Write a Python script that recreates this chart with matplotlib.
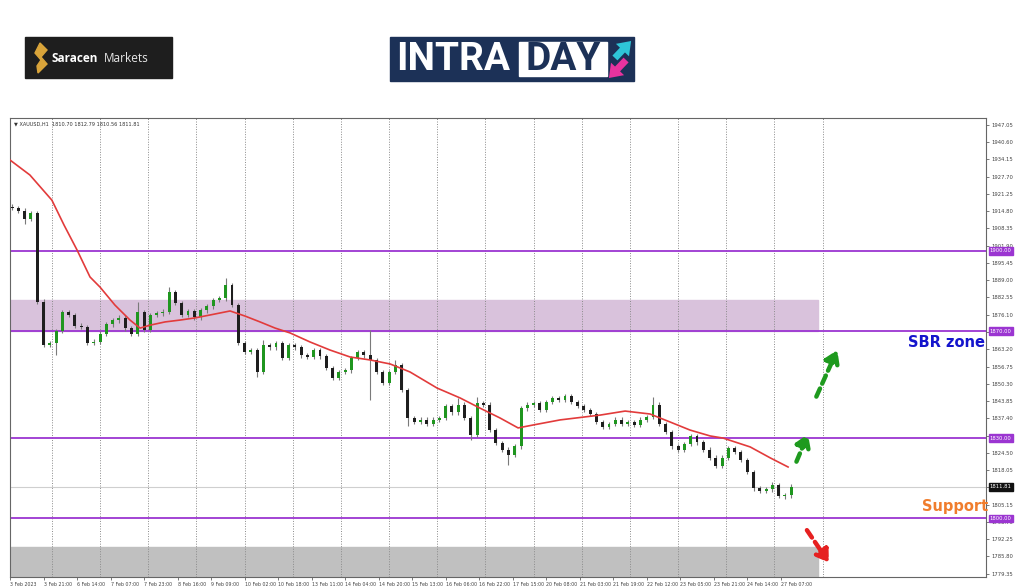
import numpy as np
import matplotlib.pyplot as plt
from matplotlib.patches import Rectangle, Polygon
import matplotlib.transforms as mtransforms


# candle closes, one candle per 3 H1 bars
closes = [1916.0, 1915.0, 1912.0, 1914.0, 1881.0, 1864.8, 1865.5, 1870.0, 1877.0, 1876.0,
          1872.0, 1871.5, 1865.5, 1866.0, 1869.0, 1872.5, 1874.0, 1875.0, 1871.0, 1869.0,
          1877.0, 1870.4, 1876.0, 1876.7, 1877.2, 1884.6, 1880.5, 1876.0, 1877.5, 1875.2,
          1877.8, 1879.3, 1881.6, 1882.3, 1887.2, 1879.7, 1865.5, 1862.2, 1862.9, 1854.7,
          1864.8, 1864.0, 1865.5, 1859.9, 1864.8, 1864.0, 1861.0, 1860.3, 1862.9, 1860.6,
          1856.2, 1852.5, 1854.7, 1855.4, 1859.9, 1862.2, 1861.0, 1859.2, 1854.7, 1850.6,
          1854.7, 1857.3, 1848.0, 1837.5, 1836.0, 1836.8, 1835.3, 1836.8, 1837.5, 1842.0,
          1839.7, 1842.4, 1837.5, 1831.2, 1843.1, 1842.4, 1833.0, 1828.2, 1825.6, 1823.7,
          1827.0, 1841.2, 1842.4, 1843.0, 1840.5, 1843.5, 1845.0, 1844.2, 1845.7, 1843.5,
          1842.0, 1840.5, 1839.0, 1836.0, 1834.2, 1835.3, 1836.8, 1835.3, 1836.0, 1834.9,
          1836.8, 1837.9, 1842.4, 1835.3, 1832.3, 1827.0, 1825.6, 1827.8, 1830.8, 1828.5,
          1825.6, 1822.6, 1819.6, 1822.6, 1826.3, 1824.8, 1821.8, 1817.3, 1811.3, 1810.2,
          1810.8, 1812.5, 1808.4, 1808.7, 1811.81]
spike_hi = {20: 1881.0, 25: 1886.5, 34: 1889.8, 40: 1866.6, 57: 1870.4, 61: 1859.0,
            71: 1845.0, 74: 1845.5, 102: 1845.5, 121: 1813.5}
spike_lo = {2: 1910.0, 7: 1861.0, 39: 1852.8, 57: 1844.2, 63: 1834.5, 73: 1829.3,
            79: 1819.9, 123: 1807.2}

# moving average (bar index, price)
ma_bar = [-1, 8.5, 19, 24.8, 31, 37.2, 42, 49.1, 56.3, 61.1, 65.9, 73, 80.2, 87.3, 94.5,
          104.1, 111.2, 118.4, 125.6, 132.7, 142.3, 151.8, 161.4, 170.9, 180.5, 190,
          202.9, 213.9, 223.4, 233, 241.6, 248.8, 261.7, 280.8, 292.7, 304.6, 314.2,
          323.7, 333.3, 339.5, 352.4, 362, 370.5]
ma_val = [1933.9, 1928.3, 1918.9, 1909.6, 1900.3, 1890.2, 1886.4, 1879.7, 1874.1, 1871.1,
          1872.2, 1873.4, 1874.1, 1874.9, 1876.0, 1877.5, 1875.6, 1873.4, 1871.1, 1869.3,
          1865.9, 1862.9, 1860.3, 1859.2, 1857.7, 1854.7, 1848.7, 1845.0, 1841.2, 1837.5,
          1833.8, 1834.9, 1836.8, 1838.6, 1840.1, 1839.0, 1836.0, 1833.0, 1830.8, 1830.0,
          1826.7, 1822.6, 1819.2]

levels = [1900.0, 1870.0, 1830.0, 1800.0]
last_price = 1811.81
sbr_zone = (1870.0, 1881.6)
low_zone = (1770.0, 1789.3)

price_ticks = ['1779.35', '1785.80', '1792.25', '1798.70', '1805.15', '1811.60', '1818.05',
               '1824.50', '1830.95', '1837.40', '1843.85', '1850.30', '1856.75', '1863.20',
               '1869.65', '1876.10', '1882.55', '1889.00', '1895.45', '1901.90', '1908.35',
               '1914.80', '1921.25', '1927.70', '1934.15', '1940.60', '1947.05']
date_labels = ['3 Feb 2023', '3 Feb 21:00', '6 Feb 14:00', '7 Feb 07:00', '7 Feb 23:00',
               '8 Feb 16:00', '9 Feb 09:00', '10 Feb 02:00', '10 Feb 18:00', '13 Feb 11:00',
               '14 Feb 04:00', '14 Feb 20:00', '15 Feb 13:00', '16 Feb 06:00', '16 Feb 22:00',
               '17 Feb 15:00', '20 Feb 08:00', '21 Feb 03:00', '21 Feb 19:00', '22 Feb 12:00',
               '23 Feb 05:00', '23 Feb 21:00', '24 Feb 14:00', '27 Feb 07:00']

PURPLE = '#9B35D1'

fig = plt.figure(figsize=(10.24, 5.87), dpi=100)
fig.patch.set_facecolor('white')

# ---- logos (figure pixel coordinates)
lax = fig.add_axes([0, 0, 1, 1], zorder=-1)
lax.set_xlim(0, 1024)
lax.set_ylim(587, 0)
lax.axis('off')
lax.add_patch(Rectangle((25, 37), 147, 41, color='#1E1E1E'))
lax.add_patch(Polygon([(40, 43), (47, 50), (41, 57), (47, 64), (38, 73), (37, 66),
                       (41, 60), (35, 53), (38, 47)], color='#D9A43A'))
lax.text(52, 58, 'Saracen', color='white', fontsize=8.5, fontweight='bold',
         family='Open Sans', va='center')
lax.text(104, 58, 'Markets', color='#E8E8E8', fontsize=8.5, family='Open Sans', va='center')
lax.add_patch(Rectangle((390, 37), 244, 44, color='#1C3157'))
lax.text(396, 59, 'INTRA', color='white', fontsize=28, fontweight='bold', family='Roboto',
         va='center')
lax.add_patch(Rectangle((519, 42), 88, 34, color='white'))
lax.text(563, 59, 'DAY', color='#1C3157', fontsize=28, fontweight='bold', family='Roboto',
         va='center', ha='center')
lax.annotate('', xy=(633, 39), xytext=(613, 60),
             arrowprops=dict(arrowstyle='simple,head_width=1.3,head_length=0.9,tail_width=0.5',
                             color='#2EC5D8', lw=0))
lax.annotate('', xy=(607, 80), xytext=(628, 58),
             arrowprops=dict(arrowstyle='simple,head_width=1.3,head_length=0.9,tail_width=0.5',
                             color='#E8339E', lw=0))

# ---- chart
ax = fig.add_axes([10 / 1024, 10 / 587, 976 / 1024, 459 / 587])
ax.set_xlim(-1, 465)
ax.set_ylim(1778.1, 1949.6)

n = len(closes)
xs = np.arange(n) * 3
opens = [closes[0] + 0.5] + closes[:-1]
highs = [spike_hi.get(i, max(o, c) + 0.9) for i, (o, c) in enumerate(zip(opens, closes))]
lows = [spike_lo.get(i, min(o, c) - 0.9) for i, (o, c) in enumerate(zip(opens, closes))]
bottoms = [min(o, c) for o, c in zip(opens, closes)]
heights = [max(abs(c - o), 0.3) for o, c in zip(opens, closes)]
cols = ['#1F961F' if c >= o else '#1E1E1E' for o, c in zip(opens, closes)]

ax.add_patch(Rectangle((-1, sbr_zone[0]), 386, sbr_zone[1] - sbr_zone[0],
                       color='#D9C2DC', zorder=0))
ax.add_patch(Rectangle((-1, low_zone[0]), 386, low_zone[1] - low_zone[0],
                       color='#C0C0C0', zorder=0))
for gx in range(19, 400, 23):
    ax.axvline(gx, color='#8A8A8A', ls=(0, (1, 1.6)), lw=0.7, zorder=1)
ax.axhline(last_price, color='#CFCFCF', lw=0.8, zorder=1)
for lv in levels:
    ax.axhline(lv, color=PURPLE, lw=1.3, zorder=2)

ax.vlines(xs, lows, highs, color='#7A7A7A', lw=0.8, zorder=3)
ax.bar(xs, heights, bottom=bottoms, width=1.4, color=cols, linewidth=0, zorder=4)
ax.plot(ma_bar, ma_val, color='#E23B3B', lw=1.2, zorder=5)


def dashed_arrow(x0, y0, x1, y1, color):
    ax.annotate('', xy=(x1, y1), xytext=(x0, y0),
                arrowprops=dict(arrowstyle='-|>,head_length=0.7,head_width=0.45',
                                lw=3.2, ls=(0, (2, 1.2)), color=color,
                                shrinkA=0, shrinkB=0), zorder=6)


dashed_arrow(374.5, 1821.2, 380, 1831.5, '#1E9A1E')
dashed_arrow(384, 1845.5, 394, 1862.9, '#1E9A1E')
dashed_arrow(379.5, 1795.6, 390, 1783.5, '#E62020')

blend = mtransforms.blended_transform_factory(ax.transAxes, ax.transData)
ax.text(0.999, 1865.9, 'SBR zone', transform=blend, ha='right', va='center',
        color='#1414CC', fontsize=10.5, fontweight='bold')
ax.text(1.002, 1804.3, 'Support', transform=blend, ha='right', va='center',
        color='#F07D2D', fontsize=10.5, fontweight='bold')
ax.text(0.004, 0.993, '\u25bc XAUUSD,H1  1810.70 1812.79 1810.56 1811.81',
        transform=ax.transAxes, fontsize=3.6, color='#333333', va='top')

ax.yaxis.tick_right()
ax.set_yticks([float(t) for t in price_ticks])
ax.set_yticklabels(price_ticks)
ax.tick_params(axis='y', labelsize=3.8, length=2, width=0.5, pad=2, colors='#444444')
ax.set_xticks([16 * k - 1 for k in range(len(date_labels))])
ax.set_xticklabels(date_labels, ha='left')
ax.tick_params(axis='x', labelsize=3.4, length=2, width=0.5, pad=1.5, colors='#444444')
for sp in ax.spines.values():
    sp.set_color('#666666')
    sp.set_linewidth(0.8)

for lv in levels:
    ax.text(1.004, lv, f'{lv:.2f}', transform=blend, fontsize=3.8, color='white',
            va='center', ha='left', zorder=10, clip_on=False,
            bbox=dict(boxstyle='square,pad=0.25', fc=PURPLE, ec=PURPLE))
ax.text(1.004, last_price, f'{last_price:.2f}', transform=blend, fontsize=3.8, color='white',
        va='center', ha='left', zorder=10, clip_on=False,
        bbox=dict(boxstyle='square,pad=0.25', fc='#111111', ec='#111111'))

fig.savefig('out.png', dpi=100)
